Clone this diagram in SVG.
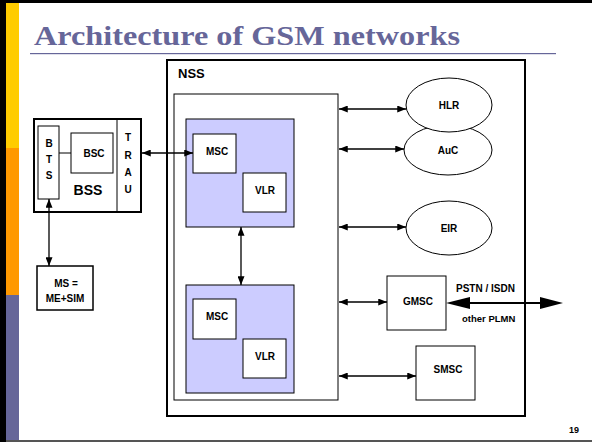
<svg xmlns="http://www.w3.org/2000/svg" width="592" height="442" viewBox="0 0 592 442">
<defs>
<marker id="ah" viewBox="0 0 10 8" refX="10" refY="4" markerWidth="9" markerHeight="7" markerUnits="userSpaceOnUse" orient="auto-start-reverse"><path d="M0,0 L10,4 L0,8 z" fill="#000"/></marker>
</defs>
<style>
.box{fill:#fff;stroke:#000;stroke-width:1}
.lav{fill:#ccccff;stroke:#000;stroke-width:1}
.t{font-family:"Liberation Sans",Arial,sans-serif;font-weight:bold;font-size:10px;fill:#000;text-anchor:middle}
.c{stroke:#000;stroke-width:1.3;fill:none;marker-start:url(#ah);marker-end:url(#ah)}
</style>
<rect width="592" height="442" fill="#fff"/>
<rect x="0" y="0" width="592" height="3" fill="#000"/>
<rect x="0" y="0" width="6" height="442" fill="#000"/>
<rect x="6" y="3" width="13" height="145" fill="#ffcc00"/>
<rect x="6" y="148" width="13" height="147" fill="#ff9900"/>
<rect x="6" y="295" width="13" height="147" fill="#666699"/>
<rect x="6" y="440" width="586" height="2" fill="#555"/>
<text x="34" y="45" font-family="'Liberation Serif','Times New Roman',serif" font-weight="bold" font-size="27" fill="#666699" textLength="426" lengthAdjust="spacingAndGlyphs">Architecture of GSM networks</text>
<rect x="30" y="53" width="526" height="1.2" fill="#666699"/>

<g id="nss">
<rect x="167" y="60" width="358" height="356" fill="#fff" stroke="#000" stroke-width="2"/>
<text x="178" y="78" class="t" style="text-anchor:start;font-size:13px">NSS</text>
</g>
<g id="core">
<rect x="174" y="94" width="164" height="306" class="box"/>
</g>
<g id="msc1">
<rect x="186" y="119" width="108" height="108" class="lav"/>
<rect x="193" y="134" width="43" height="39" class="box"/>
<text x="217" y="155" class="t">MSC</text>
</g>
<g id="vlr1">
<rect x="243" y="173" width="43" height="39" class="box"/>
<text x="265" y="194" class="t">VLR</text>
</g>
<g id="msc2">
<rect x="186" y="285" width="108" height="108" class="lav"/>
<rect x="193" y="299" width="43" height="40" class="box"/>
<text x="217" y="320" class="t">MSC</text>
</g>
<g id="vlr2">
<rect x="243" y="339" width="43" height="39" class="box"/>
<text x="265" y="360" class="t">VLR</text>
</g>
<g id="auc">
<ellipse cx="448" cy="150" rx="44" ry="25" class="box"/>
<text x="448" y="154" class="t">AuC</text>
</g>
<g id="hlr">
<ellipse cx="449" cy="105" rx="43" ry="27" class="box"/>
<text x="449" y="109" class="t">HLR</text>
</g>
<g id="eir">
<ellipse cx="449" cy="228" rx="43" ry="27" class="box"/>
<text x="449" y="232" class="t">EIR</text>
</g>
<g id="gmsc">
<rect x="387" y="276" width="59" height="54" class="box"/>
<text x="418" y="305" class="t">GMSC</text>
</g>
<g id="smsc">
<rect x="416" y="346" width="59" height="54" class="box"/>
<text x="448" y="373" class="t">SMSC</text>
</g>
<g id="bss">
<rect x="34" y="119" width="107" height="93" fill="#fff" stroke="#000" stroke-width="2"/>
<line x1="117" y1="119" x2="117" y2="212" stroke="#000" stroke-width="1"/>
<text x="88" y="195" class="t" style="font-size:14px">BSS</text>
<text class="t"><tspan x="128" y="141">T</tspan><tspan x="128" y="159">R</tspan><tspan x="128" y="176">A</tspan><tspan x="128" y="193">U</tspan></text>
</g>
<g id="bts">
<rect x="38" y="126" width="21" height="73" class="box"/>
<text class="t"><tspan x="49" y="147">B</tspan><tspan x="49" y="163">T</tspan><tspan x="49" y="179">S</tspan></text>
</g>
<g id="bsc">
<rect x="71" y="133" width="42" height="40" class="box"/>
<text x="94" y="157" class="t">BSC</text>
</g>
<g id="ms">
<rect x="37" y="266" width="56" height="44" fill="#fff" stroke="#000" stroke-width="1.5"/>
<text x="66" y="287" class="t">MS =</text>
<text x="65" y="302" class="t">ME+SIM</text>
</g>
<g id="labels">
<text x="456" y="292" class="t" style="text-anchor:start">PSTN / ISDN</text>
<text x="462" y="322" class="t" style="text-anchor:start;font-size:9.5px">other PLMN</text>
<text x="579" y="433" class="t" style="text-anchor:end;font-size:9px">19</text>
</g>
<g id="connectors">
<line x1="59" y1="153" x2="71" y2="153" stroke="#000" stroke-width="1"/>
<line x1="142" y1="153" x2="193" y2="153" class="c"/>
<line x1="49" y1="199" x2="49" y2="266" class="c"/>
<line x1="241" y1="227" x2="241" y2="285" class="c"/>
<line x1="339" y1="109" x2="406" y2="109" class="c"/>
<line x1="339" y1="149" x2="404" y2="149" class="c"/>
<line x1="339" y1="227" x2="406" y2="227" class="c"/>
<line x1="339" y1="302" x2="387" y2="302" class="c"/>
<line x1="339" y1="376" x2="416" y2="376" class="c"/>
<line x1="466" y1="303" x2="544" y2="303" stroke="#000" stroke-width="2"/>
<path d="M446,303 L470,297 L470,309 z" fill="#000"/>
<path d="M563,303 L540,297 L540,309 z" fill="#000"/>
</g>
</svg>
